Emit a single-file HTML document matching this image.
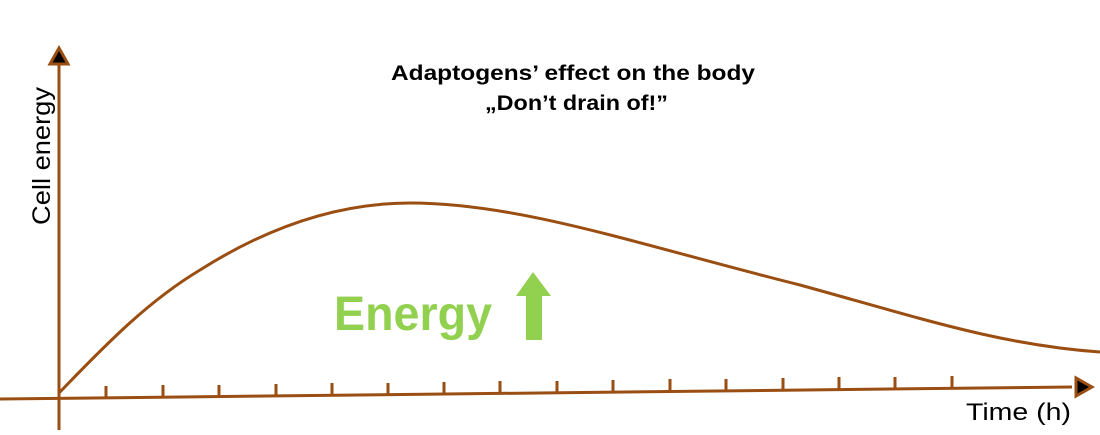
<!DOCTYPE html>
<html><head><style>
body{margin:0;background:#fff;width:1100px;height:430px;overflow:hidden}
</style></head><body>
<svg width="1100" height="430" viewBox="0 0 1100 430" xmlns="http://www.w3.org/2000/svg">
<g stroke="#9a4e12" stroke-width="3" fill="none">
<line x1="59" y1="62" x2="59" y2="430"/>
<line x1="0" y1="399" x2="1072" y2="387"/>
<path d="M59,393 C110,340 150,300 200,270 C260,232 330,203 410,203 C520,203 640,245 800,285 C920,318 1000,345 1100,352"/>
</g>
<g stroke="#9a4e12" stroke-width="3">
<line x1="106" y1="386" x2="106" y2="398"/>
<line x1="163" y1="385" x2="163" y2="398"/>
<line x1="219" y1="385" x2="219" y2="397"/>
<line x1="276" y1="384" x2="276" y2="396"/>
<line x1="332" y1="383" x2="332" y2="396"/>
<line x1="388" y1="383" x2="388" y2="395"/>
<line x1="444" y1="382" x2="444" y2="394"/>
<line x1="500" y1="381" x2="500" y2="394"/>
<line x1="557" y1="381" x2="557" y2="393"/>
<line x1="613" y1="380" x2="613" y2="392"/>
<line x1="670" y1="379" x2="670" y2="392"/>
<line x1="726" y1="379" x2="726" y2="391"/>
<line x1="783" y1="378" x2="783" y2="390"/>
<line x1="839" y1="377" x2="839" y2="390"/>
<line x1="895" y1="377" x2="895" y2="389"/>
<line x1="952" y1="376" x2="952" y2="389"/>
</g>
<polygon points="59,48 50,64 68,64" fill="#000" stroke="#9a4e12" stroke-width="3"/>
<polygon points="1092,387 1076,378 1076,396" fill="#000" stroke="#9a4e12" stroke-width="3"/>
<text x="0" y="0" transform="translate(50,225) rotate(-90)" font-family="Liberation Sans, sans-serif" font-size="25" fill="#000" textLength="138" lengthAdjust="spacingAndGlyphs">Cell energy</text>
<text x="966" y="420" font-family="Liberation Sans, sans-serif" font-size="24" fill="#000" textLength="105" lengthAdjust="spacingAndGlyphs">Time (h)</text>
<text x="391" y="80" font-family="Liberation Sans, sans-serif" font-weight="bold" font-size="21" fill="#000" textLength="364" lengthAdjust="spacingAndGlyphs">Adaptogens’ effect on the body</text>
<text x="485" y="110" font-family="Liberation Sans, sans-serif" font-weight="bold" font-size="21" fill="#000" textLength="183" lengthAdjust="spacingAndGlyphs">„Don’t drain of!”</text>
<text x="334" y="330" font-family="Liberation Sans, sans-serif" font-weight="bold" font-size="48" fill="#92d050" textLength="158" lengthAdjust="spacingAndGlyphs">Energy</text>
<polygon points="533,272 516,296 526,296 526,340 542,340 542,296 551,296" fill="#92d050"/>
</svg>
</body></html>
